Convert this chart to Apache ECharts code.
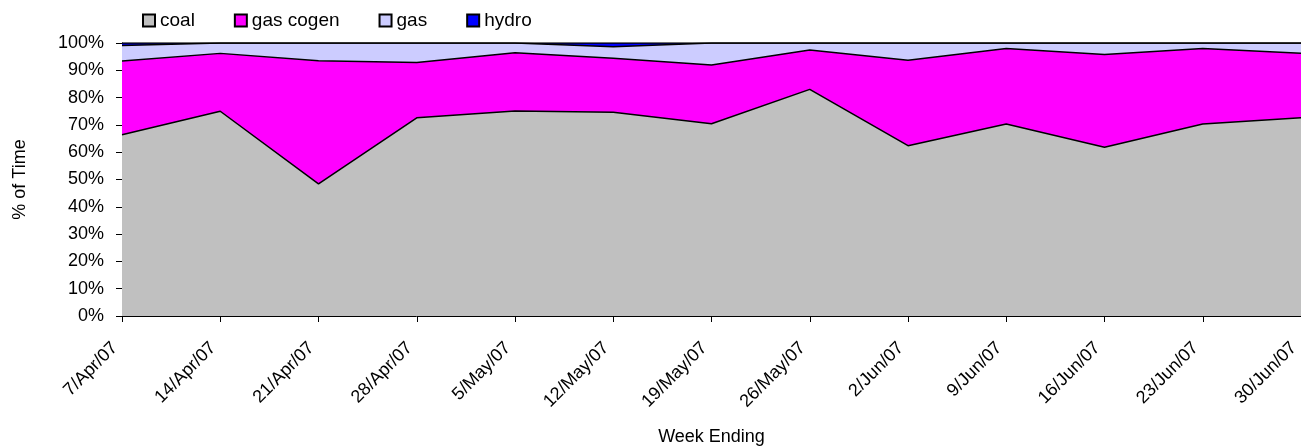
<!DOCTYPE html>
<html>
<head>
<meta charset="utf-8">
<script src="https://cdn.jsdelivr.net/npm/echarts@6/dist/echarts.min.js"></script>
<style>
  html, body { margin: 0; padding: 0; background: #fff; }
  #chart { width: 1301px; height: 448px; }
</style>
</head>
<body>
<div id="chart"></div>
<script>
var weeks = ['7/Apr/07', '14/Apr/07', '21/Apr/07', '28/Apr/07', '5/May/07', '12/May/07', '19/May/07',
    '26/May/07', '2/Jun/07', '9/Jun/07', '16/Jun/07', '23/Jun/07', '30/Jun/07'];

// % of time per week
var coal     = [66.4, 75.0, 48.4, 72.6, 75.1, 74.6, 70.4, 83.0, 62.4, 70.3, 61.8, 70.3, 72.6];
var gasCogen = [27.0, 21.2, 45.1, 20.3, 21.3, 19.8, 21.5, 14.4, 31.3, 27.7, 34.0, 27.7, 23.6];
var gas      = [5.7, 3.8, 6.5, 7.1, 3.6, 4.2, 8.1, 2.6, 6.3, 2.0, 4.2, 2.0, 3.8];
var hydro    = [0.9, 0, 0, 0, 0, 1.4, 0, 0, 0, 0, 0, 0, 0];

var font = 'Liberation Sans, Arial, sans-serif';

function areaSeries(name, data, fill) {
    return {
        name: name,
        type: 'line',
        stack: 'total',
        data: data,
        showSymbol: false,
        symbol: 'none',
        itemStyle: { color: fill, borderColor: '#000', borderWidth: 1 },
        lineStyle: { color: '#000', width: 1.5 },
        areaStyle: { color: fill, opacity: 1 },
        emphasis: { disabled: true }
    };
}

var chart = echarts.init(document.getElementById('chart'));
var option = {
    animation: false,
    textStyle: { fontFamily: font },
    legend: {
        top: 6,
        left: 137,
        icon: 'rect',
        itemWidth: 12,
        itemHeight: 12,
        itemGap: 39,
        textStyle: { fontSize: 19, color: '#000', fontFamily: font },
        data: ['coal', 'gas cogen', 'gas', 'hydro']
    },
    grid: {
        left: 122,
        right: 0,
        top: 43,
        bottom: 132,
        containLabel: false,
        outerBoundsMode: 'none'
    },
    xAxis: {
        type: 'category',
        boundaryGap: false,
        data: weeks,
        name: 'Week Ending',
        nameLocation: 'middle',
        nameGap: 112,
        nameTextStyle: { fontSize: 18, color: '#000' },
        axisLine: { lineStyle: { color: '#000', width: 1 } },
        axisTick: { show: true, length: 6, lineStyle: { color: '#000' } },
        axisLabel: {
            rotate: 45,
            fontSize: 18,
            color: '#000',
            margin: 22,
            padding: [0, 10, 0, 0],
            interval: 0
        },
        splitLine: { show: false }
    },
    yAxis: {
        type: 'value',
        min: 0,
        max: 100,
        interval: 10,
        name: '% of Time',
        nameLocation: 'middle',
        nameGap: 93,
        nameTextStyle: { fontSize: 18, color: '#000' },
        axisLine: { show: true, lineStyle: { color: '#000', width: 1 } },
        axisTick: { show: true, length: 6, lineStyle: { color: '#000' } },
        axisLabel: {
            fontSize: 18,
            color: '#000',
            margin: 18,
            formatter: '{value}%'
        },
        splitLine: { show: false }
    },
    series: [
        areaSeries('coal', coal, '#c0c0c0'),
        areaSeries('gas cogen', gasCogen, '#ff00ff'),
        areaSeries('gas', gas, '#ccccff'),
        areaSeries('hydro', hydro, '#0000ff')
    ]
};
chart.setOption(option);
</script>
</body>
</html>
